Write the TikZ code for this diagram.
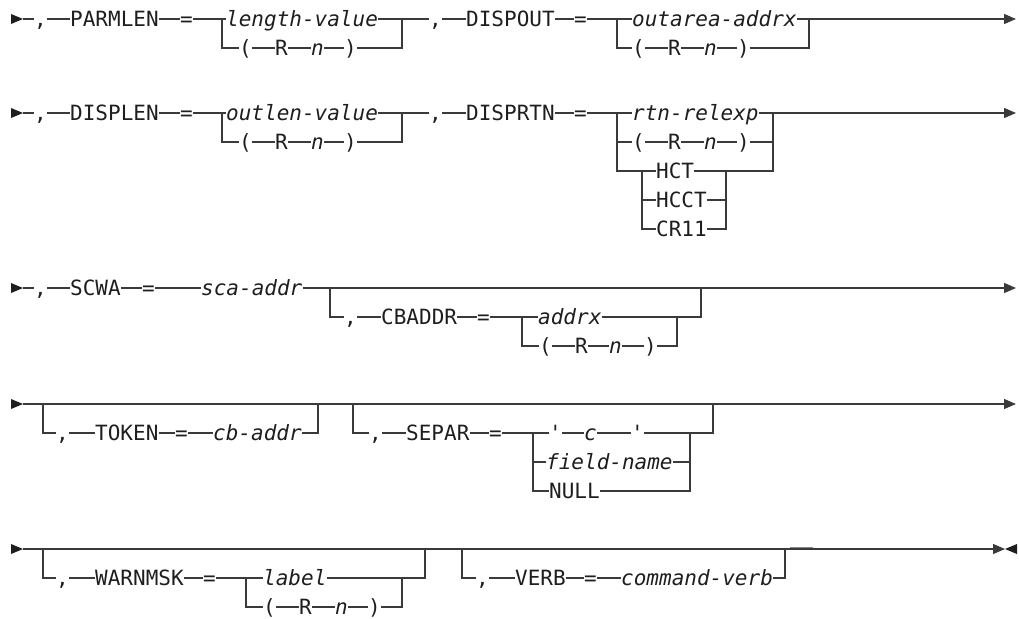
\documentclass[tikz,border=0pt]{standalone}
\usepackage{fontspec}
\setmonofont{DejaVu Sans Mono}
\usetikzlibrary{arrows.meta}
\definecolor{lc}{HTML}{3A3A3A}
\definecolor{tc}{HTML}{1E1E1E}
\begin{document}
\begin{tikzpicture}[x=1pt,y=-1pt,
  rr/.style={draw=lc, line width=1.2pt},
  tok/.style={inner sep=0pt, text height=18pt, text depth=3pt, anchor=west, text=tc, font=\ttfamily\fontsize{21}{25}\selectfont},
  var/.style={tok, font=\ttfamily\itshape\fontsize{21}{25}\selectfont},
  endtip/.style={-{Triangle[length=12pt,width=10pt]}}
]
\useasboundingbox (0,0) rectangle (1019,618);
\def\startmark#1{\fill[tc] (11,#1-5) -- (23,#1) -- (11,#1+5) -- cycle;}

% ---------------- Row 1 ----------------
\startmark{19}
\coordinate (s1) at (23,19);
\node[tok] (a1c) at (34,19) {,};
\node[tok] (a1k) at (70,19) {PARMLEN};
\node[tok] (a1e) at (180,19) {=};
\coordinate (a1f) at (222,19);
\node[var] (a1v) at (226,19) {length-value};
\coordinate (a1j) at (402,19);
\node[tok] (a1p) at (239,48) {(};
\node[tok] (a1r) at (275,48) {R};
\node[var] (a1n) at (311,48) {n};
\node[tok] (a1q) at (344,48) {)};
\node[tok] (b1c) at (429,19) {,};
\node[tok] (b1k) at (466,19) {DISPOUT};
\node[tok] (b1e) at (574,19) {=};
\coordinate (b1f) at (617,19);
\node[var] (b1v) at (632,19) {outarea-addrx};
\coordinate (b1j) at (809,19);
\node[tok] (b1p) at (632,48) {(};
\node[tok] (b1r) at (668,48) {R};
\node[var] (b1n) at (704,48) {n};
\node[tok] (b1q) at (737,48) {)};
\coordinate (e1) at (1016,19);
\draw[rr] (s1) -- (a1c.west) (a1c.east) -- (a1k.west) (a1k.east) -- (a1e.west) (a1e.east) -- (a1v.west);
\draw[rr] (a1f) |- (a1p.west) (a1p.east) -- (a1r.west) (a1r.east) -- (a1n.west) (a1n.east) -- (a1q.west);
\draw[rr] (a1q.east) -| (a1j);
\draw[rr] (a1v.east) -- (b1c.west) (b1c.east) -- (b1k.west) (b1k.east) -- (b1e.west) (b1e.east) -- (b1v.west);
\draw[rr] (b1f) |- (b1p.west) (b1p.east) -- (b1r.west) (b1r.east) -- (b1n.west) (b1n.east) -- (b1q.west);
\draw[rr] (b1q.east) -| (b1j);
\draw[rr,endtip] (b1v.east) -- (e1);

% ---------------- Row 2 ----------------
\startmark{113}
\coordinate (s2) at (23,113);
\node[tok] (a2c) at (34,113) {,};
\node[tok] (a2k) at (70,113) {DISPLEN};
\node[tok] (a2e) at (180,113) {=};
\coordinate (a2f) at (222,113);
\node[var] (a2v) at (226,113) {outlen-value};
\coordinate (a2j) at (402,113);
\node[tok] (a2p) at (239,142) {(};
\node[tok] (a2r) at (275,142) {R};
\node[var] (a2n) at (311,142) {n};
\node[tok] (a2q) at (344,142) {)};
\node[tok] (b2c) at (429,113) {,};
\node[tok] (b2k) at (466,113) {DISPRTN};
\node[tok] (b2e) at (574,113) {=};
\coordinate (b2f) at (617,113);
\node[var] (b2v) at (632,113) {rtn-relexp};
\coordinate (b2j) at (773,113);
\node[tok] (b2p) at (632,142) {(};
\node[tok] (b2r) at (668,142) {R};
\node[var] (b2n) at (704,142) {n};
\node[tok] (b2q) at (737,142) {)};
\coordinate (b2g) at (642,171);
\coordinate (b2h) at (726,171);
\node[tok] (b2s) at (656,171) {HCT};
\node[tok] (b2t) at (656,200) {HCCT};
\node[tok] (b2u) at (656,229) {CR11};
\coordinate (e2) at (1016,113);
\draw[rr] (s2) -- (a2c.west) (a2c.east) -- (a2k.west) (a2k.east) -- (a2e.west) (a2e.east) -- (a2v.west);
\draw[rr] (a2f) |- (a2p.west) (a2p.east) -- (a2r.west) (a2r.east) -- (a2n.west) (a2n.east) -- (a2q.west);
\draw[rr] (a2q.east) -| (a2j);
\draw[rr] (a2v.east) -- (b2c.west) (b2c.east) -- (b2k.west) (b2k.east) -- (b2e.west) (b2e.east) -- (b2v.west);
\draw[rr] (b2f) |- (b2p.west) (b2p.east) -- (b2r.west) (b2r.east) -- (b2n.west) (b2n.east) -- (b2q.west);
\draw[rr] (b2q.east) -| (b2j);
\draw[rr] (b2f) |- (b2g) -- (b2s.west);
\draw[rr] (b2g) |- (b2t.west);
\draw[rr] (b2g) |- (b2u.west);
\draw[rr] (b2s.east) -- (b2h);
\draw[rr] (b2t.east) -| (b2h);
\draw[rr] (b2u.east) -| (b2h);
\draw[rr] (b2h) -| (b2j);
\draw[rr,endtip] (b2v.east) -- (e2);

% ---------------- Row 3 ----------------
\startmark{288}
\coordinate (s3) at (23,288);
\node[tok] (a3c) at (34,288) {,};
\node[tok] (a3k) at (70,288) {SCWA};
\node[tok] (a3e) at (142,288) {=};
\node[var] (a3v) at (201,288) {sca-addr};
\coordinate (a3f) at (330,288);
\coordinate (a3j) at (701,288);
\node[tok] (b3c) at (344,317) {,};
\node[tok] (b3k) at (381,317) {CBADDR};
\node[tok] (b3e) at (477,317) {=};
\coordinate (b3f) at (522,317);
\node[var] (b3v) at (538,317) {addrx};
\coordinate (b3j) at (677,317);
\node[tok] (b3p) at (539,346) {(};
\node[tok] (b3r) at (575,346) {R};
\node[var] (b3n) at (609,346) {n};
\node[tok] (b3q) at (644,346) {)};
\coordinate (e3) at (1016,288);
\draw[rr] (s3) -- (a3c.west) (a3c.east) -- (a3k.west) (a3k.east) -- (a3e.west) (a3e.east) -- (a3v.west);
\draw[rr,endtip] (a3v.east) -- (e3);
\draw[rr] (a3f) |- (b3c.west) (b3c.east) -- (b3k.west) (b3k.east) -- (b3e.west) (b3e.east) -- (b3v.west);
\draw[rr] (b3v.east) -- (b3j) -| (a3j);
\draw[rr] (b3f) |- (b3p.west) (b3p.east) -- (b3r.west) (b3r.east) -- (b3n.west) (b3n.east) -- (b3q.west);
\draw[rr] (b3q.east) -| (b3j);

% ---------------- Row 4 ----------------
\startmark{404}
\coordinate (s4) at (23,404);
\coordinate (a4f) at (43,404);
\coordinate (a4j) at (318,404);
\coordinate (b4f) at (353,404);
\coordinate (b4j) at (713,404);
\coordinate (e4) at (1016,404);
\node[tok] (a4c) at (56,433) {,};
\node[tok] (a4k) at (95,433) {TOKEN};
\node[tok] (a4e) at (175,433) {=};
\node[var] (a4v) at (213,433) {cb-addr};
\node[tok] (b4c) at (369,433) {,};
\node[tok] (b4k) at (406,433) {SEPAR};
\node[tok] (b4e) at (489,433) {=};
\coordinate (c4f) at (533,433);
\coordinate (c4j) at (690,433);
\node[tok] (c4a) at (549,433) {'};
\node[var] (c4b) at (584,433) {c};
\node[tok] (c4c) at (631,433) {'};
\node[var] (c4d) at (546,462) {field-name};
\node[tok] (c4e) at (549,491) {NULL};
\draw[rr,endtip] (s4) -- (e4);
\draw[rr] (a4f) |- (a4c.west) (a4c.east) -- (a4k.west) (a4k.east) -- (a4e.west) (a4e.east) -- (a4v.west);
\draw[rr] (a4v.east) -| (a4j);
\draw[rr] (b4f) |- (b4c.west) (b4c.east) -- (b4k.west) (b4k.east) -- (b4e.west) (b4e.east) -- (c4a.west);
\draw[rr] (c4a.east) -- (c4b.west) (c4b.east) -- (c4c.west) (c4c.east) -- (c4j) -| (b4j);
\draw[rr] (c4f) |- (c4d.west);
\draw[rr] (c4f) |- (c4e.west);
\draw[rr] (c4d.east) -| (c4j);
\draw[rr] (c4e.east) -| (c4j);

% ---------------- Row 5 ----------------
\startmark{549}
\coordinate (s5) at (23,549);
\coordinate (a5f) at (43,549);
\coordinate (a5j) at (425,549);
\coordinate (b5f) at (462,549);
\coordinate (b5j) at (785,549);
\coordinate (e5) at (1005,549);
\node[tok] (a5c) at (56,578) {,};
\node[tok] (a5k) at (95,578) {WARNMSK};
\node[tok] (a5e) at (203,578) {=};
\coordinate (c5f) at (246,578);
\node[var] (a5v) at (263,578) {label};
\coordinate (c5j) at (402,578);
\node[tok] (a5p) at (263,607) {(};
\node[tok] (a5r) at (299,607) {R};
\node[var] (a5n) at (335,607) {n};
\node[tok] (a5q) at (368,607) {)};
\node[tok] (b5c) at (476,578) {,};
\node[tok] (b5k) at (515,578) {VERB};
\node[tok] (b5e) at (584,578) {=};
\node[var] (b5v) at (621,578) {command-verb};
\draw[rr,endtip] (s5) -- (e5);
\fill[tc] (1005,549) -- (1017,544) -- (1017,554) -- cycle;
\draw[draw=lc!60, line width=1.2pt] (790,547.8) -- (813,547.8);
\draw[rr] (a5f) |- (a5c.west) (a5c.east) -- (a5k.west) (a5k.east) -- (a5e.west) (a5e.east) -- (a5v.west);
\draw[rr] (a5v.east) -- (c5j) -| (a5j);
\draw[rr] (c5f) |- (a5p.west) (a5p.east) -- (a5r.west) (a5r.east) -- (a5n.west) (a5n.east) -- (a5q.west);
\draw[rr] (a5q.east) -| (c5j);
\draw[rr] (b5f) |- (b5c.west) (b5c.east) -- (b5k.west) (b5k.east) -- (b5e.west) (b5e.east) -- (b5v.west);
\draw[rr] (b5v.east) -| (b5j);
\end{tikzpicture}
\end{document}
